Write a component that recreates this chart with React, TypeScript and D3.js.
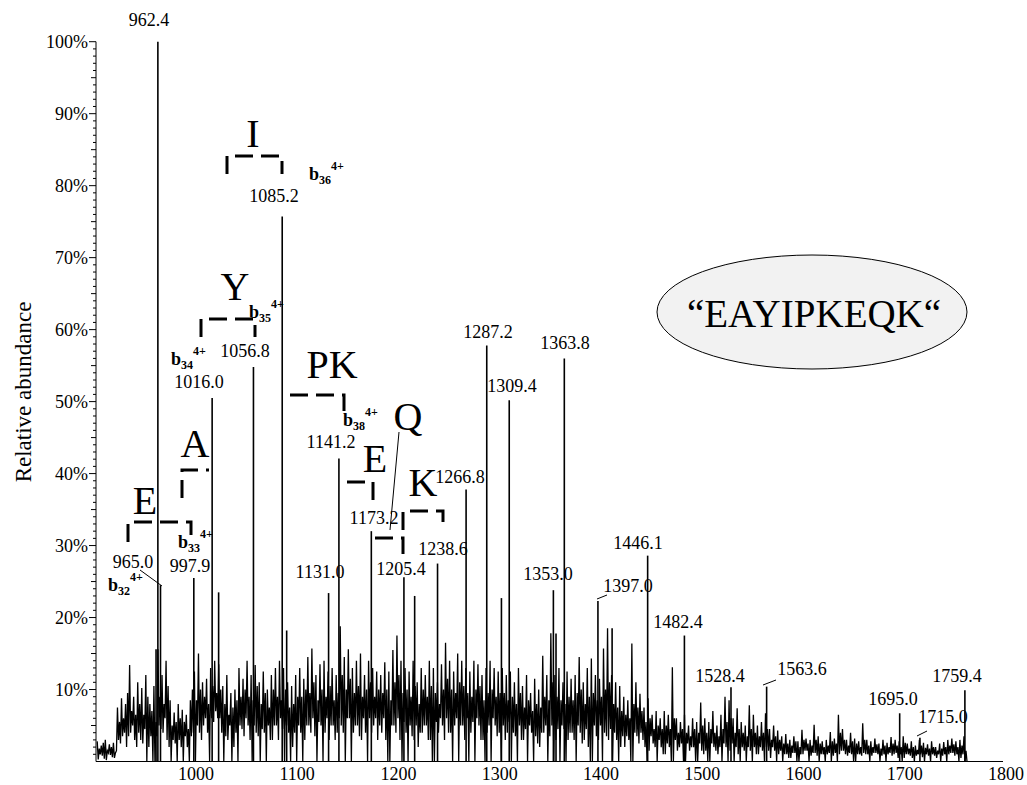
import React from 'react';
import * as d3 from 'd3';

// ---------- data ----------
const xTickValues = [1000, 1100, 1200, 1300, 1400, 1500, 1600, 1700, 1800];
const yTickValues = [10, 20, 30, 40, 50, 60, 70, 80, 90, 100];

// background noise, per 4 m/z bin starting at 902 (% relative abundance):
// first spike, first dip, second spike, second dip
const noiseStart = 902;
const noiseStep = 4;
const noiseHi = [
  2.8, 2.2, 3.0, 2.4, 2.6, 7.5, 8.8, 8.0, 13.4, 9.0,
  11.0, 10.2, 12.0, 8.0, 10.5, 15.6, 12.0, 14.0, 8.5, 6.8,
  8.0, 7.2, 6.5, 8.5, 12.5, 15.0, 11.0, 11.5, 13.0, 14.0,
  13.5, 10.5, 12.0, 9.5, 10.0, 13.0, 11.5, 14.0, 12.0, 13.4,
  11.0, 12.5, 10.0, 12.0, 13.0, 14.0, 13.0, 11.0, 10.5, 12.0,
  13.0, 11.5, 14.5, 15.7, 12.0, 13.5, 14.0, 12.5, 13.0, 12.0,
  18.8, 14.5, 15.6, 13.0, 14.0, 15.0, 12.0, 14.0, 13.0, 12.5,
  12.0, 13.8, 12.5, 15.5, 17.5, 14.0, 13.0, 12.5, 14.0, 11.0,
  13.0, 12.0, 14.0, 13.0, 11.0, 13.5, 16.5, 14.0, 12.5, 15.0,
  14.0, 13.0, 12.5, 14.0, 13.5, 12.0, 13.0, 14.0, 13.0, 12.5,
  13.0, 12.0, 12.5, 11.0, 13.0, 10.5, 12.0, 9.5, 11.5, 10.0,
  14.7, 12.0, 17.8, 12.0, 13.0, 11.0, 12.5, 11.5, 12.0, 14.5,
  11.0, 13.0, 14.3, 12.0, 11.5, 15.7, 18.5, 12.0, 11.0, 10.5,
  9.0, 8.5, 16.4, 11.0, 9.4, 7.5, 8.8, 6.5, 7.0, 6.0,
  7.0, 6.5, 13.1, 6.0, 5.5, 6.5, 5.0, 6.0, 5.5, 8.2,
  6.0, 5.5, 7.0, 5.0, 6.5, 9.0, 8.5, 6.0, 7.4, 5.5,
  5.0, 7.8, 6.5, 5.0, 5.5, 6.7, 4.5, 5.0, 4.3, 3.5,
  3.8, 3.0, 3.5, 2.8, 4.4, 3.2, 3.0, 5.1, 3.5, 2.8,
  3.0, 4.1, 3.2, 6.5, 4.5, 3.0, 4.0, 3.2, 2.8, 5.3,
  3.0, 2.8, 3.2, 2.5, 3.0, 2.6, 3.4, 3.0, 2.8, 3.5,
  2.5, 2.8, 2.2, 3.0, 2.6, 2.4, 2.8, 2.0, 2.5, 2.7,
  3.0, 3.2, 2.8, 3.0, 3.5,
];
const noiseLo = [
  0.3, 0.8, 0.2, 0.9, 0.5, 3.0, 3.5, 2.0, 4.0, 3.0,
  4.0, 2.5, 0.0, 3.5, 0.0, 5.0, 4.0, 3.0, 0.0, 2.5,
  3.0, 0.0, 2.0, 3.5, 0.0, 4.0, 5.0, 4.0, 6.0, 7.0,
  6.0, 0.0, 3.0, 0.0, 4.0, 5.0, 3.5, 5.0, 0.0, 4.0,
  0.0, 4.0, 5.0, 3.0, 5.0, 6.0, 0.0, 4.0, 2.0, 0.0,
  4.0, 3.0, 5.0, 6.0, 0.0, 5.0, 4.0, 3.0, 5.0, 4.0,
  5.0, 0.0, 6.0, 4.0, 5.0, 3.0, 4.0, 6.0, 5.0, 3.0,
  4.0, 3.0, 0.0, 5.0, 6.0, 0.0, 4.0, 5.0, 3.0, 2.0,
  4.0, 5.0, 3.0, 0.0, 4.0, 5.0, 6.0, 4.0, 5.0, 0.0,
  5.0, 6.0, 4.0, 0.0, 5.0, 3.0, 4.0, 0.0, 5.0, 4.0,
  5.0, 4.0, 0.0, 3.5, 5.0, 3.0, 0.0, 4.0, 3.5, 2.0,
  4.0, 0.0, 5.0, 3.0, 0.0, 4.5, 3.0, 4.0, 0.0, 4.0,
  3.0, 2.0, 0.0, 3.5, 5.0, 4.0, 3.0, 0.0, 3.0, 2.0,
  2.0, 3.0, 0.0, 3.5, 4.0, 2.0, 1.5, 2.5, 0.0, 2.0,
  1.0, 2.0, 0.0, 1.5, 2.5, 0.0, 1.5, 2.0, 0.0, 1.5,
  1.5, 0.0, 2.0, 1.0, 0.0, 2.0, 1.5, 0.0, 1.0, 2.0,
  0.0, 1.5, 2.0, 1.0, 1.5, 2.0, 0.5, 1.5, 1.0, 0.0,
  1.0, 0.5, 1.2, 0.0, 1.0, 1.5, 0.8, 1.2, 0.0, 1.0,
  1.0, 0.0, 1.2, 1.0, 1.5, 0.8, 1.0, 0.0, 1.0, 1.2,
  1.0, 0.8, 1.2, 0.0, 1.0, 1.0, 0.8, 1.2, 1.0, 0.5,
  1.0, 0.5, 0.8, 1.0, 0.0, 0.8, 1.0, 0.5, 0.0, 1.0,
  1.0, 1.2, 1.0, 0.5, 0.0,
];
const noiseMid = [
  1.8, 2.6, 1.5, 2.0, 1.2, 5.5, 6.0, 9.5, 7.0, 6.5,
  8.0, 6.5, 9.0, 7.0, 5.5, 9.0, 8.0, 10.5, 5.0, 5.5,
  6.0, 5.5, 4.5, 10.0, 8.5, 10.0, 9.0, 8.0, 10.5, 9.5,
  10.0, 8.0, 6.5, 7.5, 8.5, 9.0, 10.0, 9.0, 8.5, 10.5,
  8.0, 9.5, 7.5, 10.0, 9.0, 8.5, 10.0, 7.5, 8.0, 9.0,
  9.0, 10.0, 9.5, 11.0, 8.5, 10.0, 9.0, 10.5, 8.5, 9.5,
  12.0, 10.0, 11.5, 9.5, 10.5, 9.0, 10.0, 11.0, 9.0, 10.0,
  9.5, 10.0, 8.5, 11.0, 12.0, 9.5, 10.0, 9.0, 10.5, 8.0,
  10.0, 9.0, 10.5, 9.5, 8.0, 10.0, 11.5, 10.0, 9.5, 11.0,
  10.5, 9.5, 9.0, 10.0, 10.5, 8.5, 9.5, 10.0, 9.0, 9.5,
  9.5, 8.5, 9.0, 8.0, 9.5, 7.5, 8.5, 7.0, 8.0, 7.5,
  9.0, 8.5, 11.0, 9.0, 8.5, 8.0, 9.0, 8.5, 9.5, 10.0,
  8.0, 9.0, 9.5, 8.5, 9.0, 10.0, 11.0, 8.0, 7.5, 7.0,
  6.5, 6.0, 8.0, 7.5, 7.0, 5.5, 6.0, 4.5, 5.0, 4.5,
  5.0, 4.5, 6.0, 4.0, 4.5, 4.0, 3.5, 4.5, 4.0, 5.0,
  4.0, 4.5, 4.0, 3.5, 4.5, 5.5, 6.0, 4.0, 4.5, 4.0,
  3.5, 4.5, 4.0, 3.5, 4.0, 4.5, 3.0, 3.5, 3.0, 2.5,
  2.5, 2.2, 2.8, 2.0, 3.0, 2.5, 2.2, 3.0, 2.5, 2.0,
  2.2, 2.8, 2.5, 4.0, 3.0, 2.2, 2.8, 2.5, 2.0, 3.0,
  2.2, 2.0, 2.4, 1.8, 2.2, 2.0, 2.5, 2.2, 2.0, 2.6,
  1.8, 2.0, 1.6, 2.2, 1.9, 1.8, 2.0, 1.5, 1.8, 2.0,
  2.2, 2.4, 2.0, 2.2, 1.5,
];
const noiseLo2 = [
  1.0, 0.4, 1.2, 0.6, 1.5, 2.5, 4.0, 3.5, 5.0, 2.0,
  3.0, 4.5, 2.0, 0.0, 3.5, 4.5, 6.0, 2.0, 3.0, 0.0,
  2.0, 3.5, 0.0, 4.0, 5.0, 3.0, 6.0, 0.0, 5.5, 6.0,
  4.0, 3.5, 5.0, 2.0, 0.0, 4.5, 6.0, 3.0, 5.0, 3.5,
  4.5, 0.0, 3.0, 5.0, 3.0, 4.5, 5.0, 0.0, 4.0, 5.0,
  0.0, 5.0, 4.0, 3.5, 5.5, 0.0, 6.0, 5.0, 3.0, 6.0,
  4.0, 6.0, 0.0, 5.0, 3.5, 6.0, 0.0, 4.0, 6.0, 5.0,
  6.0, 0.0, 5.0, 4.0, 3.0, 5.5, 0.0, 3.5, 5.0, 4.0,
  5.0, 3.0, 0.0, 5.5, 6.0, 3.0, 4.0, 0.0, 6.0, 5.0,
  3.0, 0.0, 5.5, 6.0, 3.0, 0.0, 5.0, 6.0, 3.5, 0.0,
  3.0, 5.5, 4.0, 0.0, 3.0, 4.5, 5.0, 0.0, 2.5, 4.0,
  5.0, 3.5, 0.0, 4.5, 5.0, 0.0, 4.0, 3.0, 5.0, 2.5,
  4.5, 0.0, 5.0, 3.0, 0.0, 3.5, 4.5, 4.0, 0.0, 3.5,
  3.5, 0.0, 4.0, 2.5, 3.0, 0.0, 3.5, 2.0, 3.0, 1.0,
  2.5, 0.0, 3.0, 2.0, 0.0, 2.5, 2.0, 0.0, 2.5, 1.0,
  0.0, 2.5, 1.5, 2.0, 2.5, 0.0, 2.5, 2.0, 0.0, 1.5,
  2.0, 0.0, 1.0, 2.0, 0.0, 1.5, 2.0, 0.0, 1.5, 1.0,
  0.5, 1.2, 0.0, 1.0, 1.5, 0.0, 1.2, 0.8, 1.0, 0.0,
  1.2, 0.8, 0.0, 1.5, 1.0, 1.2, 0.0, 1.0, 0.8, 1.0,
  0.0, 1.2, 1.0, 0.8, 0.0, 1.2, 1.0, 0.5, 0.0, 1.0,
  0.8, 0.0, 1.0, 0.6, 1.0, 0.0, 0.8, 1.0, 0.8, 0.0,
  1.2, 0.8, 0.0, 1.0, 0.0,
];

// prominent peaks (m/z, % relative abundance)
const peakMz = [
  960.6, 962.4, 965.0, 997.9, 1016.0, 1022.4, 1056.8, 1085.2, 1089.6, 1131.0,
  1141.2, 1173.2, 1205.4, 1216.0, 1238.6, 1266.8, 1287.2, 1301.7, 1309.4, 1353.0,
  1355.6, 1363.8, 1397.0, 1411.0, 1446.1, 1482.4, 1528.4, 1563.6, 1695.0, 1715.0,
  1759.4,
];
const peakInt = [
  15.6, 100, 24.5, 25.5, 50.5, 23.5, 54.8, 75.7, 18.2, 23.4,
  42.1, 32.0, 25.6, 23.0, 27.5, 37.8, 57.8, 22.7, 50.2, 23.8,
  17.8, 56.0, 22.3, 18.5, 28.6, 17.5, 10.3, 10.4, 6.7, 3.3,
  9.9,
];

// peak labels
const peakLabels = [
  '962.4', '965.0', '997.9', '1016.0', '1056.8', '1085.2', '1131.0', '1141.2',
  '1173.2', '1205.4', '1238.6', '1266.8', '1287.2', '1309.4', '1353.0', '1363.8',
  '1397.0', '1446.1', '1482.4', '1528.4', '1563.6', '1695.0', '1715.0', '1759.4',
];
// b-ion labels
const ionNumbers = ['32', '33', '34', '35', '36', '38'];
// residue labels
const residues = ['E', 'A', 'Y', 'I', 'PK', 'E', 'Q', 'K'];
const sequence = '\u201CEAYIPKEQK\u201C';
const yTitle = 'Relative abundance';

// ---------- layout (pixel positions of annotations) ----------
const labelPos: [number, number][] = [
  [149, 26], [133, 568], [190, 572], [199, 388], [245, 357], [274, 202], [320, 578], [331, 448],
  [374, 524], [401, 575], [443, 555], [460, 483], [488, 338], [512, 392], [548, 580], [565, 349],
  [628, 592], [638, 549], [678, 628], [720, 682], [802, 675], [893, 705], [943, 723], [957, 682],
];
const ionPos: [number, number][] = [
  [108, 591], [178, 548], [171, 365], [249, 318], [309, 180], [343, 426],
];
const residuePos: [number, number][] = [
  [145, 514], [195, 457], [235, 300], [253, 147], [332, 378], [375, 472], [408, 430], [423, 496],
];
const brackets: string[] = [
  'M128,542 L128,522 L191,522 L191,537',
  'M182,498 L182,470 L209,470',
  'M201,337 L201,319 L255,319 L255,337',
  'M227,174 L227,156 L282,156 L282,174',
  'M290,395 L344,395 L344,415',
  'M347,482 L373,482 L373,502',
  'M375,538 L403,538 L403,557',
  'M403,530 L403,511 L443,511 L443,530',
];
const leaders: [number, number, number, number][] = [
  [140, 570, 162, 586],
  [399, 432, 390, 530],
  [597, 599, 607, 595],
  [763, 685, 776, 680],
  [917, 736, 927, 731],
];

const FONT = "'Liberation Serif', 'Times New Roman', serif";

export default function App() {
  const x = d3.scaleLinear().domain([901.3, 1800]).range([96, 1006]);
  const y = d3.scaleLinear().domain([0, 100]).range([761.5, 41.7]);

  const pts: [number, number][] = [];
  noiseHi.forEach((h, i) => {
    const m = noiseStart + i * noiseStep;
    pts.push([m + 0.5, h]);
    pts.push([m + 1.5, noiseLo[i]]);
    pts.push([m + 2.5, noiseMid[i]]);
    pts.push([m + 3.5, noiseLo2[i]]);
  });
  const line = d3
    .line<[number, number]>()
    .x((d) => x(d[0]))
    .y((d) => y(d[1]));

  const minorTicks = d3.range(1, 101);

  return (
    <svg
      width={1027}
      height={785}
      style={{ position: 'absolute', left: 0, top: 0, background: '#fff' }}
      fontFamily={FONT}
    >
      <rect x={0} y={0} width={1027} height={785} fill="#fff" />
      {/* spectrum */}
      <path d={line(pts) || ''} fill="none" stroke="#000" strokeWidth={1.3} />
      {peakMz.map((m, i) => (
        <line
          key={'p' + i}
          x1={x(m)}
          x2={x(m)}
          y1={y(0)}
          y2={y(peakInt[i])}
          stroke="#000"
          strokeWidth={1.6}
        />
      ))}

      {/* y axis */}
      <line x1={96} x2={96} y1={y(100)} y2={y(0)} stroke="#000" strokeWidth={1} />
      {minorTicks.map((t) => (
        <line
          key={'mt' + t}
          x1={96}
          x2={t % 10 === 0 ? 89 : t % 5 === 0 ? 91 : 93}
          y1={y(t)}
          y2={y(t)}
          stroke="#000"
          strokeWidth={1}
        />
      ))}
      {yTickValues.map((t) => (
        <text key={'yt' + t} x={88} y={y(t) + 6} textAnchor="end" fontSize={18}>
          {t}%
        </text>
      ))}
      <text
        transform={`translate(31, 392) rotate(-90)`}
        textAnchor="middle"
        fontSize={23}
      >
        {yTitle}
      </text>

      {/* x axis */}
      <line x1={96} x2={x(1800) - 3} y1={y(0)} y2={y(0)} stroke="#000" strokeWidth={1} />
      {xTickValues.map((t) => (
        <text key={'xt' + t} x={x(t)} y={780} textAnchor="middle" fontSize={18}>
          {t}
        </text>
      ))}

      {/* peak labels */}
      {peakLabels.map((s, i) => (
        <text key={'pl' + i} x={labelPos[i][0]} y={labelPos[i][1]} textAnchor="middle" fontSize={18}>
          {s}
        </text>
      ))}
      {leaders.map((l, i) => (
        <line key={'ld' + i} x1={l[0]} y1={l[1]} x2={l[2]} y2={l[3]} stroke="#000" strokeWidth={1} />
      ))}

      {/* b ion labels */}
      {ionNumbers.map((n, i) => (
        <text key={'b' + i} x={ionPos[i][0]} y={ionPos[i][1]} fontWeight="bold" fontSize={18}>
          b
          <tspan fontSize={12} dy={4}>
            {n}
          </tspan>
          <tspan fontSize={12} dy={-14}>
            4+
          </tspan>
        </text>
      ))}

      {/* residue brackets */}
      {brackets.map((d, i) => (
        <path key={'br' + i} d={d} fill="none" stroke="#000" strokeWidth={3} strokeDasharray="18 8" />
      ))}
      {residues.map((r, i) => (
        <text key={'r' + i} x={residuePos[i][0]} y={residuePos[i][1]} textAnchor="middle" fontSize={40}>
          {r}
        </text>
      ))}

      {/* sequence ellipse */}
      <ellipse cx={812} cy={312} rx={155} ry={57} fill="#f2f2f2" stroke="#000" strokeWidth={1} />
      <text x={814} y={327} textAnchor="middle" fontSize={39}>
        {sequence}
      </text>
    </svg>
  );
}
